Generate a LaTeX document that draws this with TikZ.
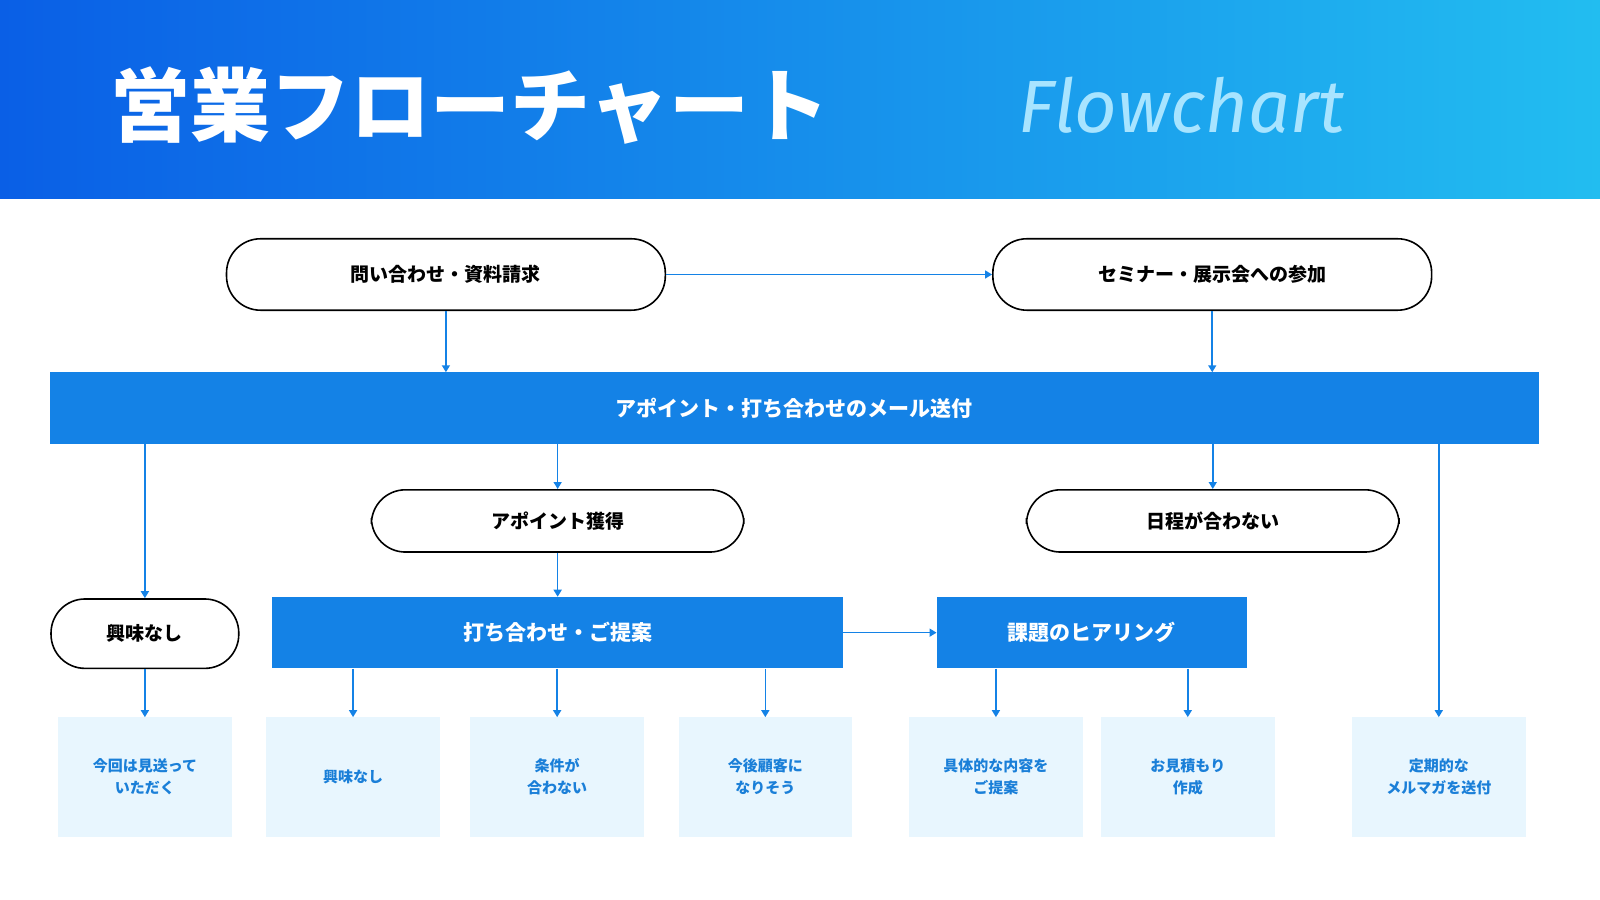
\documentclass[tikz,border=0pt]{standalone}
\usepackage{fontspec}
\setmainfont{Noto Sans CJK JP}
\newfontfamily\lat{Fira Sans}
\usetikzlibrary{arrows.meta}
\definecolor{bA}{HTML}{0A5FE6}
\definecolor{bB}{HTML}{22BDF0}
\definecolor{mid}{HTML}{1482E6}
\definecolor{lt}{HTML}{E8F6FE}
\definecolor{txt}{HTML}{1A7FD8}
\definecolor{fl}{HTML}{A8E4FF}
\begin{document}
\begin{tikzpicture}[x=1.0204pt,y=-1.0204pt,
 pill/.style={draw=black,line width=1.6pt,rounded corners=34pt,fill=white,font=\bfseries\fontsize{19}{22}\selectfont},
 bar/.style={fill=mid,text=white,font=\bfseries\fontsize{21}{24}\selectfont},
 leaf/.style={fill=lt,text=txt,align=center,font=\bfseries\fontsize{15}{22}\selectfont},
 arr/.style={draw=mid,line width=1.6pt,-{Triangle[length=7pt,width=8pt]}}]
\useasboundingbox (0,0) rectangle (1568,882);
\shade[left color=bA,right color=bB] (0,0) rectangle (1568,195);
\node[text=white,font=\bfseries\fontsize{80}{90}\selectfont,anchor=west] (title) at (105,103) {営業フローチャート};
\node[text=fl,font=\lat\itshape\fontsize{74}{80}\selectfont,anchor=west] (fc) at (995,103) {Flowchart};
\newcommand\pnode[6]{\node[pill,minimum width={(#4-#2)*1.0204pt},minimum height={(#5-#3)*1.0204pt}] (#1) at ({(#2+#4)/2},{(#3+#5)/2}) {#6};}
\newcommand\bnode[7]{\node[#7,minimum width={(#4-#2)*1.0204pt},minimum height={(#5-#3)*1.0204pt},inner sep=0pt] (#1) at ({(#2+#4)/2},{(#3+#5)/2}) {#6};}
\pnode{p1}{222}{234}{652}{304}{問い合わせ・資料請求}
\pnode{p2}{973}{234}{1403}{304}{セミナー・展示会への参加}
\bnode{bar}{49}{365}{1508}{435}{アポイント・打ち合わせのメール送付}{bar}
\pnode{nk}{50}{587}{234}{655}{興味なし}
\pnode{ap}{364}{480}{729}{541}{アポイント獲得}
\pnode{nt}{1006}{480}{1371}{541}{日程が合わない}
\bnode{pr}{267}{585}{826}{655}{打ち合わせ・ご提案}{bar}
\bnode{hr}{918}{585}{1222}{655}{課題のヒアリング}{bar}
\bnode{l1}{57}{703}{227}{820}{今回は見送って\\いただく}{leaf}
\bnode{l2}{261}{703}{431}{820}{興味なし}{leaf}
\bnode{l3}{461}{703}{631}{820}{条件が\\合わない}{leaf}
\bnode{l4}{665}{703}{835}{820}{今後顧客に\\なりそう}{leaf}
\bnode{l5}{891}{703}{1061}{820}{具体的な内容を\\ご提案}{leaf}
\bnode{l6}{1079}{703}{1249}{820}{お見積もり\\作成}{leaf}
\bnode{l7}{1325}{703}{1495}{820}{定期的な\\メルマガを送付}{leaf}
\draw[arr] (p1.east) -- (p2.west);
\draw[arr] (p1.south) -- (p1.south|-bar.north);
\draw[arr] (p2.south) -- (p2.south|-bar.north);
\draw[arr] (nk.north|-bar.south) -- (nk.north);
\draw[arr] (ap.north|-bar.south) -- (ap.north);
\draw[arr] (nt.north|-bar.south) -- (nt.north);
\draw[arr] (l7.north|-bar.south) -- (l7.north);
\draw[arr] (ap.south) -- (ap.south|-pr.north);
\draw[arr] (pr.east) -- (hr.west);
\draw[arr] (nk.south) -- (l1.north);
\draw[arr] (l2.north|-pr.south) -- (l2.north);
\draw[arr] (l3.north|-pr.south) -- (l3.north);
\draw[arr] (l4.north|-pr.south) -- (l4.north);
\draw[arr] (l5.north|-hr.south) -- (l5.north);
\draw[arr] (l6.north|-hr.south) -- (l6.north);
\end{tikzpicture}
\end{document}
